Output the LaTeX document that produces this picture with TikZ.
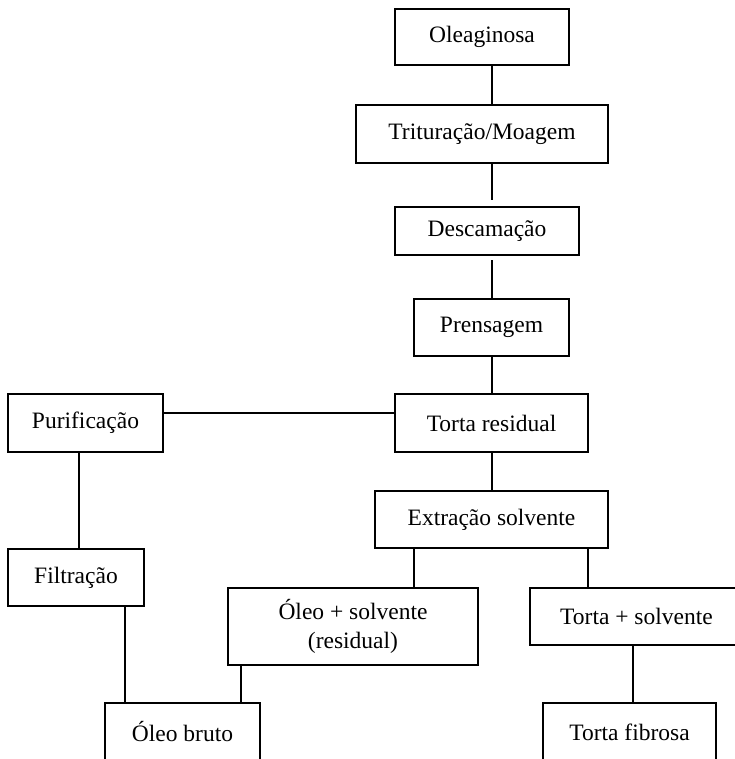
\documentclass[tikz,border=0pt]{standalone}
\usepackage{fontspec}
\setmainfont{Liberation Serif}
\usepackage{tikz}
\usetikzlibrary{positioning}

\begin{document}
\begin{tikzpicture}[
        x=0.5pt, y=-0.5pt,
        line width=1pt,
        box/.style={rectangle, draw=black, inner sep=0pt, align=center, fill=white,
            font=\fontsize{11.75}{14.5}\selectfont},
        link/.style={draw=black, line width=1pt}
    ]
        \useasboundingbox (0,0) rectangle (734,759);

        % Main line
        \node[box, minimum width=87pt, minimum height=28pt] (olea) at (482,37) {Oleaginosa};
        \node[box, minimum width=126pt, minimum height=29pt] (trit) at (482,134) {Trituração/Moagem};
        \node[box, minimum width=92pt, minimum height=24pt] (desc) at (487,231) {Descamação};
        \node[box, minimum width=77.5pt, minimum height=28.5pt] (prens) at (491.5,327.5) {Prensagem};
        \node[box, minimum width=96.5pt, minimum height=29pt] (torta) at (491.5,423) {Torta residual};
        \node[box, minimum width=116.5pt, minimum height=28.5pt] (extr) at (491.5,519.5) {Extração solvente};

        % Left branch
        \node[box, minimum width=77.5pt, minimum height=29pt] (purif) at (85.5,423) {Purificação};
        \node[box, minimum width=68pt, minimum height=28.5pt] (filt) at (76,577.5) {Filtração};

        % Outputs
        \node[box, minimum width=125pt, minimum height=38.5pt] (oleosolv) at (353,626.5) {Óleo + solvente\\(residual)};
        \node[box, minimum width=106.5pt, minimum height=28.5pt] (tortasolv) at (636.5,616.5) {Torta + solvente};
        \node[box, minimum width=77.5pt, minimum height=29pt] (bruto) at (182.5,732) {Óleo bruto};
        \node[box, minimum width=86.5pt, minimum height=29pt] (fibrosa) at (629.5,732) {Torta fibrosa};

        % Columns of the connectors
        \coordinate (colmain) at (492,0);
        \coordinate (colpurif) at (79,0);
        \coordinate (colfilt) at (125,0);
        \coordinate (cololeo) at (414,0);
        \coordinate (colres) at (241,0);
        \coordinate (coltorta) at (588,0);
        \coordinate (colfib) at (633,0);
        \coordinate (rowpurif) at (0,413);

        % Connections
        \draw[link] (olea.south -| colmain) -- (trit.north -| colmain);
        \draw[link, shorten >=3pt] (trit.south -| colmain) -- (desc.north -| colmain);
        \draw[link, shorten <=2pt] (desc.south -| colmain) -- (prens.north -| colmain);
        \draw[link] (prens.south -| colmain) -- (torta.north -| colmain);
        \draw[link] (torta.south -| colmain) -- (extr.north -| colmain);
        \draw[link] (torta.west |- rowpurif) -- (purif.east |- rowpurif);
        \draw[link] (purif.south -| colpurif) -- (filt.north -| colpurif);
        \draw[link] (filt.south -| colfilt) -- (bruto.north -| colfilt);
        \draw[link] (extr.south -| cololeo) -- (oleosolv.north -| cololeo);
        \draw[link] (extr.south -| coltorta) -- (tortasolv.north -| coltorta);
        \draw[link] (oleosolv.south -| colres) -- (bruto.north -| colres);
        \draw[link] (tortasolv.south -| colfib) -- (fibrosa.north -| colfib);

    \end{tikzpicture}
\end{document}
